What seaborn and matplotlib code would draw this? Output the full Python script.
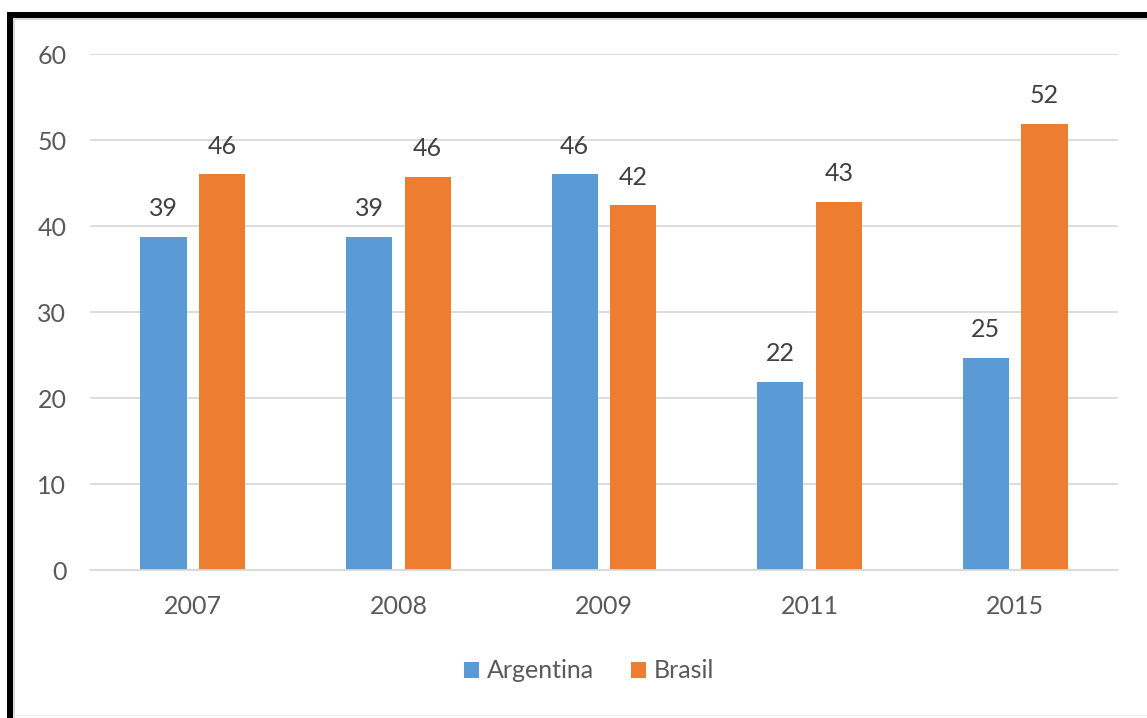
import matplotlib
matplotlib.use("Agg")
import matplotlib.pyplot as plt
import seaborn as sns
import pandas as pd
from matplotlib.patches import Rectangle, Patch

years = ["2007", "2008", "2009", "2011", "2015"]
argentina = [38.7, 38.7, 46.0, 21.9, 24.7]
brasil = [46.0, 45.7, 42.4, 42.8, 51.9]
labels_arg = ["39", "39", "46", "22", "25"]
labels_bra = ["46", "46", "42", "43", "52"]
series = ["Argentina", "Brasil"]
colors = ["#5B9BD5", "#ED7D31"]
yticks = [0, 10, 20, 30, 40, 50, 60]

df = pd.DataFrame({
    "year": years * 2,
    "value": argentina + brasil,
    "country": [series[0]] * len(years) + [series[1]] * len(years),
})

sns.set_theme(style="white")
plt.rcParams["font.family"] = ["Lato", "DejaVu Sans"]

W, H = 1147, 718
FS = 18
fig = plt.figure(figsize=(W / 100, H / 100), dpi=100)
ax = fig.add_axes([90 / W, 1 - 570 / H, (1118 - 90) / W, (570 - 54) / H])

sns.barplot(data=df, x="year", y="value", hue="country", order=years,
            hue_order=series, palette=colors, width=0.57, gap=0.21,
            linewidth=0, saturation=1, legend=False, ax=ax)

ax.set_ylim(0, 60)
ax.set_yticks(yticks)
ax.set_xlim(-0.5, len(years) - 0.5)
ax.set_xlabel("")
ax.set_ylabel("")
ax.yaxis.grid(True, color="#d9d9d9", linewidth=1.3)
ax.set_axisbelow(True)
for s in ["top", "right", "left"]:
    ax.spines[s].set_visible(False)
ax.spines["bottom"].set_color("#d9d9d9")
ax.spines["bottom"].set_linewidth(1.3)
ax.tick_params(axis="both", length=0, labelsize=FS, labelcolor="#595959")
ax.tick_params(axis="y", pad=17)
ax.tick_params(axis="x", pad=18)

lab_all = [labels_arg, labels_bra]
for cont, labs in zip(ax.containers, lab_all):
    for rect, lab in zip(cont, labs):
        ax.annotate(lab, (rect.get_x() + rect.get_width() / 2, rect.get_height()),
                    xytext=(0, 15), textcoords="offset points",
                    ha="center", va="baseline", fontsize=FS, color="#404040")

handles = [Patch(facecolor=c, edgecolor="none") for c in colors]
fig.legend(handles, series, loc="center", bbox_to_anchor=(589 / W, 1 - 671 / H),
           ncol=2, frameon=False, fontsize=FS, labelcolor="#595959",
           handlelength=0.6, handleheight=0.6, handletextpad=0.3, columnspacing=1.5)

# outer frame
fig.patches.append(Rectangle((7 / W, 0), 6 / W, 1 - 12 / H, transform=fig.transFigure,
                             facecolor="black", edgecolor="none", zorder=10))
fig.patches.append(Rectangle((7 / W, 1 - 18 / H), 1 - 7 / W, 6 / H, transform=fig.transFigure,
                             facecolor="black", edgecolor="none", zorder=10))
fig.patches.append(Rectangle((13 / W, 1 - 20 / H), 1 - 13 / W, 2 / H, transform=fig.transFigure,
                             facecolor="#d9d9d9", edgecolor="none", zorder=9))
fig.patches.append(Rectangle((13 / W, 0), 2 / W, 1 - 18 / H, transform=fig.transFigure,
                             facecolor="#d9d9d9", edgecolor="none", zorder=9))
fig.patches.append(Rectangle((13 / W, 2 / H), 1 - 13 / W, 1.5 / H, transform=fig.transFigure,
                             facecolor="#eeeeee", edgecolor="none", zorder=9))

fig.savefig("out.png", dpi=100)
